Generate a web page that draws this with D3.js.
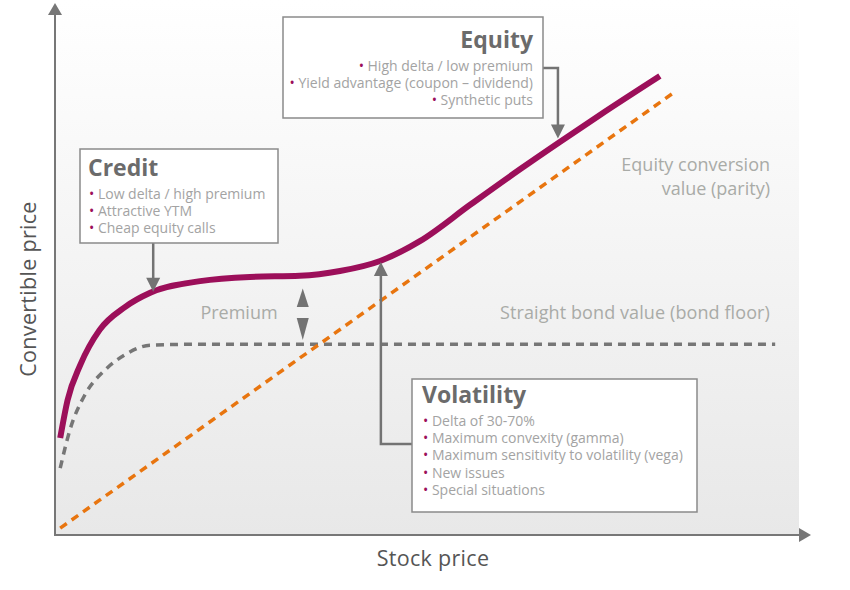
<!DOCTYPE html>
<html>
<head>
<meta charset="utf-8">
<script src="https://cdn.jsdelivr.net/npm/d3@7"></script>
<style>
  body { margin: 0; background: #fff; }
  text { font-family: "Open Sans", "Noto Sans", sans-serif; }
</style>
</head>
<body>
<div id="chart"></div>
<script>
// stock price (x) vs price (y), both on a 0-100 scale
let parityX = [0.7, 83.3]
let parityY = [1.3, 83.6]

let bondX = [0.7, 2.0, 4.0, 6.7, 9.4, 12.8, 20, 96.8]
let bondY = [12.6, 19.8, 26.4, 31.1, 34.0, 35.8, 36.0, 36.0]

let convX = [0.7, 1.7, 3.4, 6.0, 9.4, 12.8, 19.5, 26.2, 32.9, 38.3, 43.7, 49.1, 55.8, 62.5, 67.9, 73.3, 81.3]
let convY = [18.3, 25.5, 32.1, 38.7, 43.0, 45.7, 47.9, 48.7, 48.9, 49.8, 51.7, 55.5, 62.3, 69.0, 74.2, 79.3, 86.6]

let equityItems = ['High delta / low premium', 'Yield advantage (coupon – dividend)', 'Synthetic puts']
let creditItems = ['Low delta / high premium', 'Attractive YTM', 'Cheap equity calls']
let volItems = ['Delta of 30-70%', 'Maximum convexity (gamma)', 'Maximum sensitivity to volatility (vega)', 'New issues', 'Special situations']

let width = 850
let height = 590
let x0 = 55, x1 = 799, yBottom = 535, yTop = 5

let svg = d3.select('#chart')
  .append('svg')
  .attr('width', width)
  .attr('height', height)

let xScale = d3.scaleLinear().domain([0, 100]).range([x0, x1])
let yScale = d3.scaleLinear().domain([0, 100]).range([yBottom, yTop])

let defs = svg.append('defs')
let grad = defs.append('linearGradient')
  .attr('id', 'bg')
  .attr('x1', 0).attr('y1', 0).attr('x2', 0).attr('y2', 1)
grad.append('stop').attr('offset', '0%').attr('stop-color', '#ffffff')
grad.append('stop').attr('offset', '100%').attr('stop-color', '#e8e8e8')

svg.append('rect')
  .attr('x', x0)
  .attr('y', 0)
  .attr('width', x1 - x0)
  .attr('height', yBottom)
  .attr('fill', 'url(#bg)')

let axisColor = '#777'
let arrowColor = '#737373'

// axes with arrow heads
svg.append('line')
  .attr('x1', x0).attr('x2', x0)
  .attr('y1', yBottom).attr('y2', 14)
  .attr('stroke', axisColor).attr('stroke-width', 2)
svg.append('path')
  .attr('d', `M${x0},3 L${x0 + 7},15 L${x0 - 7},15 Z`)
  .attr('fill', axisColor)
svg.append('line')
  .attr('x1', x0 - 1).attr('x2', x1)
  .attr('y1', yBottom).attr('y2', yBottom)
  .attr('stroke', axisColor).attr('stroke-width', 2)
svg.append('path')
  .attr('d', `M${x1 + 12},${yBottom} L${x1},${yBottom - 7} L${x1},${yBottom + 7} Z`)
  .attr('fill', axisColor)

// axis titles
svg.append('text')
  .attr('x', 433)
  .attr('y', 566)
  .attr('text-anchor', 'middle')
  .attr('font-size', 21.5)
  .attr('letter-spacing', 0.3)
  .attr('fill', '#555')
  .text('Stock price')

svg.append('text')
  .attr('transform', 'translate(36,289) rotate(-90)')
  .attr('text-anchor', 'middle')
  .attr('font-size', 21.5)
  .attr('letter-spacing', 0.3)
  .attr('fill', '#555')
  .text('Convertible price')

let line = d3.line()
  .x(d => xScale(d[0]))
  .y(d => yScale(d[1]))
  .curve(d3.curveMonotoneX)

// bond floor
svg.append('path')
  .datum(d3.zip(bondX, bondY))
  .attr('d', line)
  .attr('fill', 'none')
  .attr('stroke', '#767676')
  .attr('stroke-width', 3.5)
  .attr('stroke-dasharray', '8,6')

// parity
svg.append('path')
  .datum(d3.zip(parityX, parityY))
  .attr('d', line)
  .attr('fill', 'none')
  .attr('stroke', '#e8750f')
  .attr('stroke-width', 3.5)
  .attr('stroke-dasharray', '8,6')

// convertible price
svg.append('path')
  .datum(d3.zip(convX, convY))
  .attr('d', line)
  .attr('fill', 'none')
  .attr('stroke', '#9c0f5a')
  .attr('stroke-width', 6)

// labels on the lines
let labelColor = '#a9aba7'
let labelSize = 18
svg.append('text')
  .attr('x', 770).attr('y', 171)
  .attr('text-anchor', 'end')
  .attr('font-size', labelSize)
  .attr('fill', labelColor)
  .text('Equity conversion')
svg.append('text')
  .attr('x', 770).attr('y', 195)
  .attr('text-anchor', 'end')
  .attr('font-size', labelSize)
  .attr('fill', labelColor)
  .text('value (parity)')
svg.append('text')
  .attr('x', 770).attr('y', 319)
  .attr('text-anchor', 'end')
  .attr('font-size', labelSize)
  .attr('letter-spacing', 0.1)
  .attr('fill', labelColor)
  .text('Straight bond value (bond floor)')
svg.append('text')
  .attr('x', 239).attr('y', 319)
  .attr('text-anchor', 'middle')
  .attr('font-size', labelSize)
  .attr('fill', labelColor)
  .text('Premium')

// premium double arrow
let px = xScale(33.3)
svg.append('path')
  .attr('d', `M${px},${yScale(46.5)} L${px + 6},307 L${px - 6},307 Z`)
  .attr('fill', arrowColor)
svg.append('path')
  .attr('d', `M${px},${yScale(36.8)} L${px + 6},318 L${px - 6},318 Z`)
  .attr('fill', arrowColor)

// annotation boxes
function box(bx, by, bw, bh) {
  svg.append('rect')
    .attr('x', bx).attr('y', by)
    .attr('width', bw).attr('height', bh)
    .attr('fill', '#fff')
    .attr('stroke', '#8a8a8a')
    .attr('stroke-width', 1.5)
}

function bulletList(items, tx, ty, anchor) {
  items.forEach((t, i) => {
    let txt = svg.append('text')
      .attr('x', tx)
      .attr('y', ty + i * 17.2)
      .attr('text-anchor', anchor)
      .attr('font-size', 14)
      .attr('fill', '#a3a3a3')
    txt.append('tspan').attr('fill', '#9c0f5a').text('• ')
    txt.append('tspan').text(t)
  })
}

function title(t, tx, ty, anchor) {
  svg.append('text')
    .attr('x', tx).attr('y', ty)
    .attr('text-anchor', anchor)
    .attr('font-size', 23)
    .attr('font-weight', 'bold')
    .attr('fill', '#6b6b6b')
    .text(t)
}

function connector(points) {
  svg.append('path')
    .attr('d', d3.line()(points))
    .attr('fill', 'none')
    .attr('stroke', arrowColor)
    .attr('stroke-width', 2.5)
}

function arrowHead(ax, ay, dir) {
  // dir: 1 pointing down, -1 pointing up
  svg.append('path')
    .attr('d', `M${ax},${ay} L${ax + 7},${ay - dir * 14} L${ax - 7},${ay - dir * 14} Z`)
    .attr('fill', arrowColor)
}

// Equity
let eqTipX = xScale(67.6), eqTipY = yScale(74.8)
connector([[543, 68], [eqTipX, 68], [eqTipX, eqTipY - 12]])
arrowHead(eqTipX, eqTipY, 1)
box(283, 17, 260, 101)
title('Equity', 533, 48, 'end')
bulletList(equityItems, 533, 71, 'end')

// Credit
let crTipX = xScale(13.2), crTipY = yScale(45.9)
connector([[crTipX, 243], [crTipX, crTipY - 12]])
arrowHead(crTipX, crTipY, 1)
box(80, 149, 198, 94)
title('Credit', 88, 176, 'start')
bulletList(creditItems, 89, 199, 'start')

// Volatility
let voTipX = xScale(43.8), voTipY = yScale(51.5)
connector([[412, 444], [voTipX, 444], [voTipX, voTipY + 12]])
arrowHead(voTipX, voTipY, -1)
box(412, 379, 285, 133)
title('Volatility', 422, 403, 'start')
bulletList(volItems, 423, 426, 'start')
</script>
</body>
</html>
